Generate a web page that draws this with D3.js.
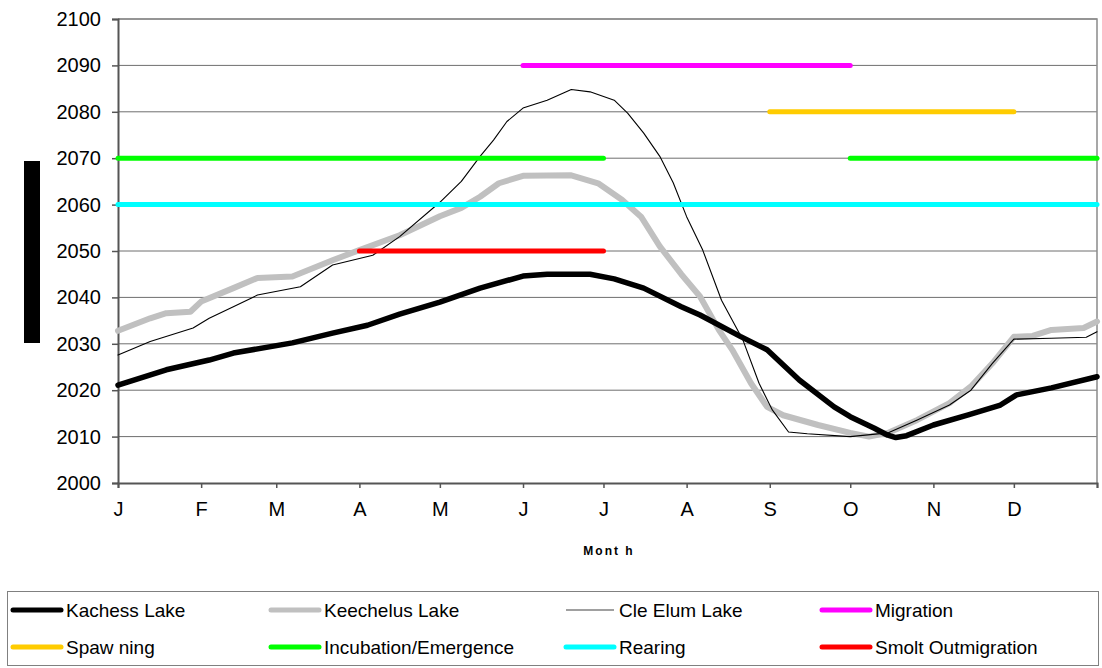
<!DOCTYPE html>
<html>
<head>
<meta charset="utf-8">
<script src="https://cdn.jsdelivr.net/npm/d3@7"></script>
<style>
  html, body { margin: 0; padding: 0; background: #fff; }
  svg { display: block; font-family: Arial, "Liberation Sans", sans-serif; }
</style>
</head>
<body>
<svg id="chart" width="1102" height="668"></svg>
<script>
// ---- Data ----
const monthStarts = [0, 31, 59, 90, 120, 151, 181, 212, 243, 273, 304, 334, 365];
const monthLabels = ["J", "F", "M", "A", "M", "J", "J", "A", "S", "O", "N", "D", ""];
const yTicks = [2000, 2010, 2020, 2030, 2040, 2050, 2060, 2070, 2080, 2090, 2100];

// Lake elevations: [day of year, elevation]
const kachessLake = [
  [0, 2021.1], [18, 2024.4], [34, 2026.5], [43, 2028.0], [65, 2030.2], [80, 2032.3],
  [93, 2034.0], [105, 2036.4], [120, 2039.0], [135, 2042.0], [151, 2044.6], [160, 2045.0],
  [176, 2045.0], [185, 2044.0], [196, 2042.0], [210, 2038.0], [217, 2036.2], [232, 2031.6],
  [242, 2028.7], [254, 2022.2], [267, 2016.4], [273, 2014.3], [282, 2011.8], [287, 2010.3],
  [290, 2009.8], [294, 2010.2], [304, 2012.5], [317, 2014.7], [329, 2016.8], [335, 2019.0],
  [348, 2020.5], [365, 2022.9]
];
const keechelusLake = [
  [0, 2032.8], [12, 2035.5], [18, 2036.6], [27, 2036.9], [31, 2039.1], [43, 2042.0],
  [52, 2044.2], [65, 2044.5], [80, 2048.0], [90, 2050.2], [105, 2053.4], [120, 2057.5],
  [128, 2059.3], [135, 2061.7], [142, 2064.6], [151, 2066.2], [169, 2066.3], [179, 2064.6],
  [188, 2061.0], [195, 2057.4], [202, 2051.0], [210, 2045.0], [217, 2040.2], [224, 2033.0],
  [229, 2028.7], [236, 2021.5], [242, 2016.4], [248, 2014.6], [261, 2012.5], [273, 2010.8],
  [280, 2010.0], [287, 2010.8], [298, 2013.6], [310, 2017.2], [318, 2020.8], [326, 2025.8],
  [334, 2031.5], [341, 2031.7], [348, 2033.0], [360, 2033.4], [365, 2034.8]
];
const cleElumLake = [
  [0, 2027.6], [12, 2030.5], [28, 2033.4], [34, 2035.5], [43, 2038.0], [52, 2040.5],
  [68, 2042.3], [80, 2047.0], [95, 2049.1], [105, 2053.1], [120, 2060.5], [128, 2065.0],
  [135, 2070.4], [140, 2073.9], [145, 2077.9], [151, 2080.8], [160, 2082.5], [169, 2084.8],
  [176, 2084.3], [185, 2082.5], [190, 2079.7], [196, 2075.4], [202, 2070.4], [207, 2064.7],
  [212, 2057.4], [218, 2050.2], [225, 2039.4], [233, 2030.8], [239, 2021.5], [244, 2015.7],
  [250, 2011.0], [257, 2010.6], [273, 2010.0], [287, 2010.8], [298, 2013.6], [310, 2016.8],
  [318, 2020.0], [326, 2025.8], [334, 2031.0], [348, 2031.2], [361, 2031.4], [365, 2032.6]
];

// Fish life-stage periods (plotted as horizontal bars at a fixed level)
const phaseNames = ["Migration", "Spawning", "Incubation/Emergence", "Rearing", "Smolt Outmigration"];
const phaseLevels = [2090, 2080, 2070, 2060, 2050];
const phaseRanges = [
  [[151, 273]],
  [[243, 334]],
  [[0, 181], [273, 365]],
  [[0, 365]],
  [[90, 181]]
];
const phaseColors = ["#ff00ff", "#ffcc00", "#00ff00", "#00ffff", "#ff0000"];

// Legend entries (row-major, as displayed)
const legendLabels = ["Kachess Lake", "Keechelus Lake", "Cle Elum Lake", "Migration",
                      "Spaw ning", "Incubation/Emergence", "Rearing", "Smolt Outmigration"];

// ---- Drawing ----
(function draw() {
  const svg = d3.select("#chart");
  svg.append("rect").attr("width", 1102).attr("height", 668).attr("fill", "#fff");

  const pL = 118, pR = 1097, pT = 19, pB = 483;
  const x = d3.scaleLinear().domain([0, 365]).range([pL, pR]);
  const y = d3.scaleLinear().domain([2000, 2100]).range([pB, pT]);

  // gridlines
  svg.append("g").selectAll("line").data(yTicks.slice(1)).join("line")
    .attr("x1", pL).attr("x2", pR)
    .attr("y1", d => y(d)).attr("y2", d => y(d))
    .attr("stroke", "#6e6e6e").attr("stroke-width", 1);

  // plot frame (top/right)
  svg.append("path")
    .attr("d", `M${pL},${pT}H${pR}V${pB}`)
    .attr("fill", "none").attr("stroke", "#8a8a8a").attr("stroke-width", 1.5);

  // Y axis
  const yAxis = d3.axisLeft(y).tickValues(yTicks).tickSize(6).tickPadding(11).tickFormat(d3.format("d"));
  const gy = svg.append("g").attr("transform", `translate(${pL},0)`).call(yAxis);
  gy.select(".domain").attr("stroke", "#555").attr("stroke-width", 2);
  gy.selectAll(".tick line").attr("stroke", "#555").attr("stroke-width", 1.5);
  gy.selectAll(".tick text").attr("font-size", 20).attr("fill", "#000")
    .attr("font-family", "Arial, 'Liberation Sans', sans-serif");

  // X axis
  const xAxis = d3.axisBottom(x).tickValues(monthStarts).tickSize(5).tickPadding(14)
    .tickFormat((d, i) => monthLabels[i]);
  const gx = svg.append("g").attr("transform", `translate(0,${pB})`).call(xAxis);
  gx.select(".domain").attr("stroke", "#555").attr("stroke-width", 2);
  gx.selectAll(".tick line").attr("stroke", "#555").attr("stroke-width", 1.5);
  gx.selectAll(".tick text").attr("font-size", 20).attr("fill", "#000")
    .attr("font-family", "Arial, 'Liberation Sans', sans-serif");

  // X axis title
  svg.append("text").attr("x", 609).attr("y", 555)
    .attr("text-anchor", "middle").attr("font-size", 12).attr("font-weight", "bold")
    .attr("letter-spacing", 2).text("Mont h");

  // Y axis title block
  svg.append("rect").attr("x", 24).attr("y", 161).attr("width", 16).attr("height", 182).attr("fill", "#000");

  // lake lines
  const line = d3.line().x(d => x(d[0])).y(d => y(d[1]));
  const lakes = [
    { data: keechelusLake, color: "#c0c0c0", w: 6 },
    { data: cleElumLake, color: "#000", w: 1.1 },
    { data: kachessLake, color: "#000", w: 5.5 }
  ];
  svg.append("g").selectAll("path").data(lakes).join("path")
    .attr("d", d => line(d.data))
    .attr("fill", "none").attr("stroke", d => d.color).attr("stroke-width", d => d.w)
    .attr("stroke-linejoin", "round").attr("stroke-linecap", "round");

  // phase bars
  const segs = [];
  phaseRanges.forEach((ranges, i) => ranges.forEach(r => segs.push({ i, r })));
  svg.append("g").selectAll("line").data(segs).join("line")
    .attr("x1", d => x(d.r[0])).attr("x2", d => x(d.r[1]))
    .attr("y1", d => y(phaseLevels[d.i])).attr("y2", d => y(phaseLevels[d.i]))
    .attr("stroke", d => phaseColors[d.i]).attr("stroke-width", 5)
    .attr("stroke-linecap", "round");

  // Legend
  svg.append("rect").attr("x", 7.5).attr("y", 591.5).attr("width", 1091).attr("height", 74)
    .attr("fill", "none").attr("stroke", "#808080").attr("stroke-width", 1);

  const legendStyles = [
    { color: "#000", w: 5 }, { color: "#c0c0c0", w: 5 }, { color: "#808080", w: 1.5 },
    { color: phaseColors[0], w: 5 }, { color: phaseColors[1], w: 5 }, { color: phaseColors[2], w: 5 },
    { color: phaseColors[3], w: 5 }, { color: phaseColors[4], w: 5 }
  ];
  const colX = [13, 271, 566, 822];
  const rowY = [610, 647];
  const lg = svg.append("g").selectAll("g").data(legendLabels).join("g")
    .attr("transform", (d, i) => `translate(${colX[i % 4]},${rowY[Math.floor(i / 4)]})`);
  lg.append("line").attr("x1", 0).attr("x2", 48).attr("y1", 0).attr("y2", 0)
    .attr("stroke", (d, i) => legendStyles[i].color)
    .attr("stroke-width", (d, i) => legendStyles[i].w)
    .attr("stroke-linecap", (d, i) => legendStyles[i].w > 2 ? "round" : "butt");
  lg.append("text").attr("x", 53).attr("y", 0).attr("dy", "0.35em")
    .attr("font-size", 19).attr("fill", "#000").text(d => d);
})();
</script>
</body>
</html>
